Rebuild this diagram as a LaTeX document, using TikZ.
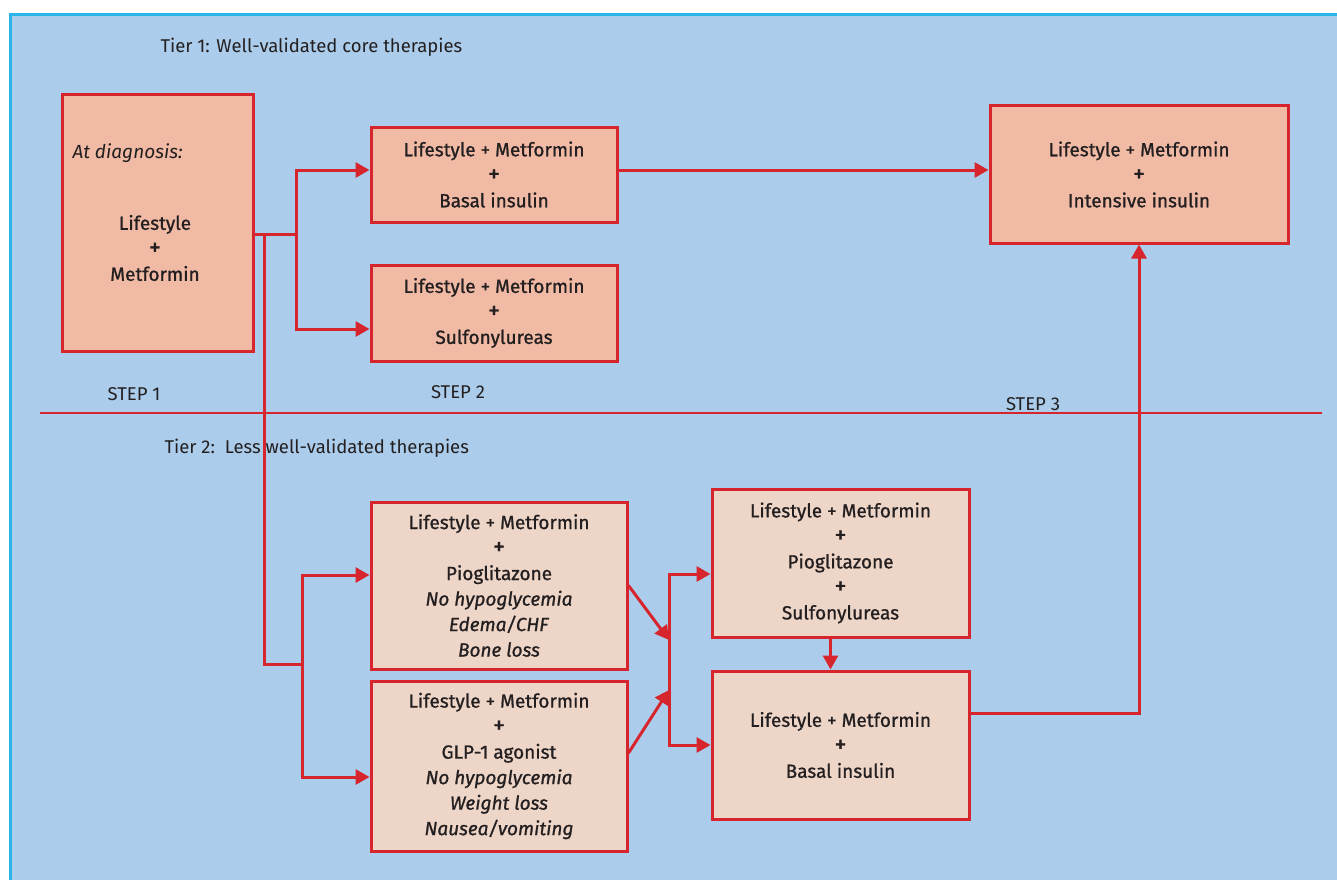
\documentclass[tikz,border=0pt]{standalone}
\usepackage{fontspec}
\setmainfont{Fira Sans}
\newfontfamily\boxfont{Fira Sans}[FakeBold=1.0]
\usepackage{tikz}
\usetikzlibrary{arrows.meta,positioning,calc}

\definecolor{panelblue}{HTML}{ABCDEB}
\definecolor{panelrim}{HTML}{29B5E8}
\definecolor{boxred}{HTML}{D7252E}
\definecolor{corefill}{HTML}{F0BAA5}
\definecolor{lessfill}{HTML}{EDD5C8}
\definecolor{inkgray}{HTML}{231F20}
\newcommand{\bigplus}{{\fontsize{24}{25.5}\selectfont +}}

\begin{document}
\begin{tikzpicture}[
  x=1pt, y=-1pt,
  font=\fontsize{18.5}{25.5}\selectfont, text=inkgray,
  box/.style={draw=boxred, line width=3pt, align=center, inner sep=0pt, font=\boxfont\fontsize{19}{25.5}\selectfont},
  coreb/.style={box, fill=corefill},
  lessb/.style={box, fill=lessfill},
  lnk/.style={draw=boxred, line width=3pt},
  arr/.style={lnk, -{Triangle[length=14pt,width=15pt]}}
]
\useasboundingbox (0,0) rectangle (1337,880);
\fill[panelblue] (9,13) rectangle (1337,880);
\draw[panelrim, line width=3pt] (10.5,880) -- (10.5,14.5) -- (1337,14.5);

% tier 1
\node[anchor=west] (tier1) at (157,47) {Tier 1: Well-validated core therapies};
\node[coreb, minimum width=191pt, minimum height=256pt] (diag) at (157.5,223) {};
\node[anchor=west, font=\itshape\fontsize{19}{25.5}\selectfont] (diaglbl) at (69,153) {At diagnosis:};
\node[align=center, font=\boxfont\fontsize{19}{25.5}\selectfont] (diagtxt) at (155,248) {Lifestyle\\\bigplus\\Metformin};
\node[coreb, minimum width=246pt, minimum height=95pt] (b2a) at (494,174.5) {Lifestyle + Metformin\\\bigplus\\Basal insulin};
\node[coreb, minimum width=246pt, minimum height=96pt] (b2b) at (494,313) {Lifestyle + Metformin\\\bigplus\\Sulfonylureas};
\node[coreb, minimum width=298pt, minimum height=137pt] (b3) at (1139,174.5) {Lifestyle + Metformin\\\bigplus\\Intensive insulin};

\node (step1) at (134,394) {STEP 1};
\node (step2) at (458,392) {STEP 2};
\node (step3) at (1033,404) {STEP 3};
\coordinate (divl) at (40,413);
\coordinate (divr) at (1322,413);
\draw[lnk, line width=2.6pt] (divl) -- (divr);

% tier 2
\node[anchor=west] (tier2) at (161,448) {Tier 2:\ \ Less well-validated therapies};
\node[lessb, minimum width=256pt, minimum height=167pt] (pio) at (499,585.5) {Lifestyle + Metformin\\\bigplus\\Pioglitazone\\\textit{No hypoglycemia}\\\textit{Edema/CHF}\\\textit{Bone loss}};
\node[lessb, minimum width=256pt, minimum height=170pt] (glp) at (499,766) {Lifestyle + Metformin\\\bigplus\\GLP-1 agonist\\\textit{No hypoglycemia}\\\textit{Weight loss}\\\textit{Nausea/vomiting}};
\node[lessb, minimum width=257pt, minimum height=148pt] (pisu) at (840.5,563) {Lifestyle + Metformin\\\bigplus\\Pioglitazone\\\bigplus\\Sulfonylureas};
\node[lessb, minimum width=257pt, minimum height=148pt] (bas2) at (840.5,745) {Lifestyle + Metformin\\\bigplus\\Basal insulin};

% connectors
\coordinate (split1) at (296,234);
\coordinate (tap) at (264,234);
\coordinate (split2) at (302,664);
\coordinate (m1) at (669,640);
\coordinate (m2) at (669,690);
\draw[lnk] (diag.east |- split1) -- (split1);
\draw[arr] (split1) |- ([yshift=4.5pt]b2a.west);
\draw[arr] (split1) |- ([yshift=-16pt]b2b.west);
\draw[lnk] (tap) |- (split2);
\draw[arr] (split2) |- ([yshift=10.5pt]pio.west);
\draw[arr] (split2) |- ([yshift=-11pt]glp.west);
\draw[arr] (pio.east) -- (m1);
\draw[arr] ([yshift=13pt]glp.east) -- (m2);
\draw[lnk] (m1) -- (m2);
\draw[arr] (m1) |- ([yshift=-11pt]pisu.west);
\draw[arr] (m2) |- (bas2.west);
\draw[arr] ([xshift=-10pt]pisu.south) -- ([xshift=-10pt]bas2.north);
\draw[arr] ([yshift=32pt]bas2.east) -| (b3.south);
\draw[arr] ([yshift=4.5pt]b2a.east) -- ([yshift=4.5pt]b3.west);
\end{tikzpicture}
\end{document}
